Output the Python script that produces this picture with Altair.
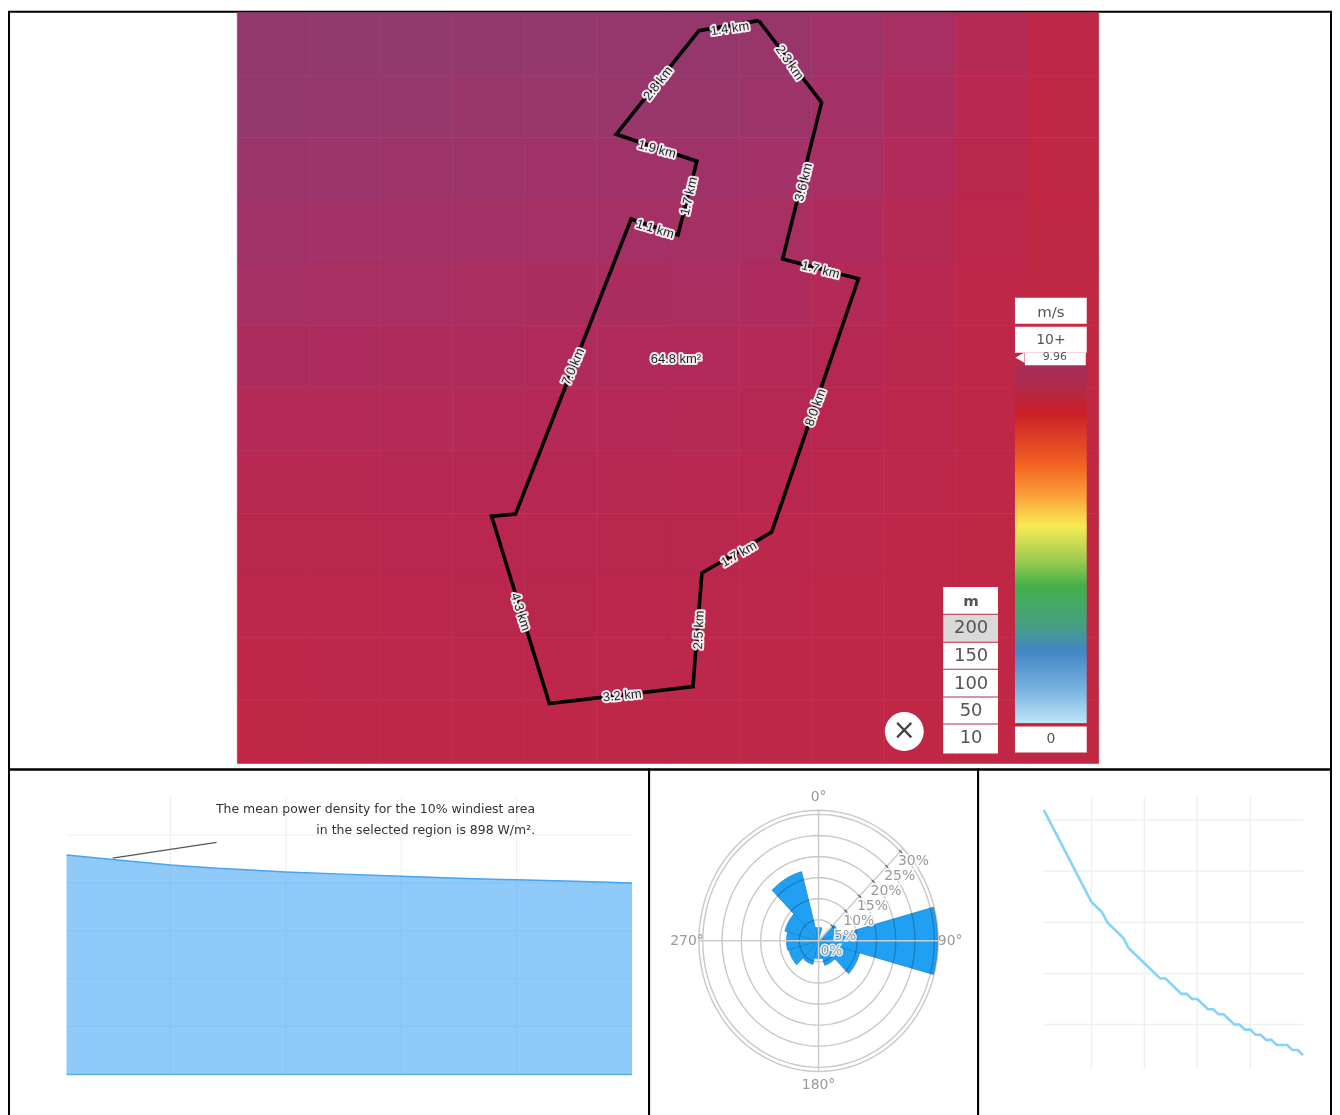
import math
import altair as alt
import pandas as pd

# ---------- map data ----------
map_cols = [237, 309, 381, 453, 525, 597, 669, 741, 813, 885, 957, 1029, 1101]
map_rows = [10, 73, 135, 198, 261, 324, 386, 449, 512, 575, 637, 700, 763]
wind_grid = [
    [9.92, 9.93, 9.93, 9.92, 9.91, 9.90, 9.90, 9.88, 9.82, 9.72, 9.60, 9.48],
    [9.91, 9.90, 9.89, 9.88, 9.87, 9.87, 9.87, 9.84, 9.78, 9.68, 9.56, 9.45],
    [9.86, 9.85, 9.84, 9.83, 9.82, 9.82, 9.82, 9.79, 9.72, 9.63, 9.53, 9.44],
    [9.80, 9.79, 9.78, 9.77, 9.76, 9.76, 9.75, 9.72, 9.67, 9.59, 9.50, 9.43],
    [9.75, 9.73, 9.72, 9.71, 9.70, 9.70, 9.69, 9.67, 9.62, 9.56, 9.48, 9.43],
    [9.68, 9.67, 9.66, 9.66, 9.65, 9.65, 9.64, 9.62, 9.58, 9.53, 9.47, 9.43],
    [9.62, 9.62, 9.62, 9.62, 9.61, 9.61, 9.60, 9.58, 9.55, 9.51, 9.46, 9.44],
    [9.57, 9.57, 9.58, 9.58, 9.58, 9.57, 9.56, 9.55, 9.52, 9.49, 9.46, 9.44],
    [9.53, 9.54, 9.55, 9.55, 9.55, 9.54, 9.53, 9.52, 9.50, 9.47, 9.45, 9.44],
    [9.50, 9.51, 9.52, 9.53, 9.53, 9.52, 9.51, 9.50, 9.48, 9.46, 9.45, 9.44],
    [9.47, 9.49, 9.50, 9.50, 9.50, 9.50, 9.49, 9.48, 9.47, 9.46, 9.45, 9.44],
    [9.45, 9.47, 9.48, 9.48, 9.48, 9.48, 9.47, 9.47, 9.46, 9.45, 9.45, 9.44],
]
boundary_x = [760, 823, 784, 860, 773, 703, 694, 550, 492, 516, 632, 679, 698, 617, 700, 760]
boundary_y = [18, 100, 257, 277, 531, 572, 686, 703, 515, 513, 217, 233, 159, 132, 28, 18]
label_text = ["1.4 km", "2.3 km", "3.6 km", "1.7 km", "8.0 km", "1.7 km", "2.5 km", "3.2 km",
              "4.3 km", "7.0 km", "1.1 km", "1.7 km", "1.9 km", "2.8 km", "64.8 km²"]
label_x = [731, 791, 805, 822, 817, 740, 700, 623, 521, 574, 656, 690, 658, 659, 677]
label_y = [26, 60, 180, 268, 406, 553, 629, 695, 611, 365, 227, 194, 147, 81, 357]
label_angle = [352, 55, 284, 14, 290, 330, 273, 354, 72, 293, 17, 283, 15, 308, 0]

box_x0 = [1017, 1017, 1027, 1017, 945, 945, 945, 945, 945, 945]
box_x1 = [1089, 1089, 1088, 1089, 1000, 1000, 1000, 1000, 1000, 1000]
box_y0 = [296, 325, 351, 726, 586, 614, 642, 669, 697, 724]
box_y1 = [322, 351, 364, 752, 613, 641, 668, 696, 723, 753]
box_fill = ["white", "white", "white", "white", "white", "#d9d9d9", "white", "white", "white", "white"]
widget_text = ["m/s", "10+", "9.96", "0", "200", "150", "100", "50", "10"]
widget_x = [1053, 1053, 1057, 1053, 973, 973, 973, 973, 973]
widget_y = [310, 338, 355, 739, 627, 655, 683, 710, 738]
widget_size = [15, 14, 11, 14, 18, 18, 18, 18, 18]

bar_stops = [(0.0, "#a52f5a"), (0.05, "#ad2b4c"), (0.136, "#cb2027"), (0.28, "#f26522"),
             (0.365, "#f9a13a"), (0.448, "#f8ea55"), (0.546, "#9acb4f"), (0.616, "#42b04a"),
             (0.72, "#47a07f"), (0.797, "#4286c4"), (0.908, "#7ab4e0"), (1.0, "#bfe6f8")]

# ---------- chart data ----------
density_pct = [2, 10, 20, 28, 40, 50, 60, 70, 80, 90, 100]
density_val = [917, 898, 875, 862, 846, 837, 828, 820, 813, 807, 800]
speed_pct = [2, 20, 24, 26, 32, 34, 40, 46, 48, 54, 56, 58, 60, 64, 66, 68, 70, 74, 76, 78, 80,
             82, 84, 86, 88, 90, 94, 96, 98, 100]
speed_val = [9.92, 9.74, 9.72, 9.70, 9.67, 9.65, 9.62, 9.59, 9.59, 9.56, 9.56, 9.55, 9.55, 9.53,
             9.53, 9.52, 9.52, 9.50, 9.50, 9.49, 9.49, 9.48, 9.48, 9.47, 9.47, 9.46, 9.46, 9.45,
             9.45, 9.44]
rose_dir = [0, 30, 60, 90, 120, 150, 180, 210, 240, 270, 300, 330]
rose_freq = [3.2, 0.5, 5.5, 30.8, 11, 6, 4.2, 5.8, 8, 8.3, 9, 17]
ring_vals = [5, 10, 15, 20, 25, 30, 31]
radial_ticks = [0, 5, 10, 15, 20, 25, 30]

FONT = "DejaVu Sans"
GREY = "#666666"

# ---------- top: map ----------
W0, H0 = 1326, 760
sx = alt.Scale(domain=[8, 1334], range=[0, W0], nice=False, zero=False)
sy = alt.Scale(domain=[9, 769], range=[0, H0], nice=False, zero=False)
X = alt.X("x:Q", scale=sx, axis=None)
Y = alt.Y("y:Q", scale=sy, axis=None)
X2 = alt.X2("x1:Q")
Y2 = alt.Y2("y1:Q")

cells = pd.DataFrame([
    {"x": map_cols[c], "x1": map_cols[c + 1], "y": map_rows[r], "y1": map_rows[r + 1], "v": wind_grid[r][c]}
    for r in range(len(wind_grid)) for c in range(len(wind_grid[0]))
])
wind_scale = alt.Scale(domain=[9.40, 9.96], range=["#c2283e", "#8e3a70"], clamp=True)
heat = alt.Chart(cells).mark_rect(strokeWidth=0.6).encode(
    x=X, x2=X2, y=Y, y2=Y2,
    color=alt.Color("v:Q", scale=wind_scale, legend=None),
    stroke=alt.Stroke("v:Q", scale=wind_scale, legend=None),
)
bdf = pd.DataFrame({"x": boundary_x, "y": boundary_y, "i": range(len(boundary_x))})
boundary = alt.Chart(bdf).mark_line(color="black", strokeWidth=3.6, strokeJoin="miter").encode(
    x=X, y=Y, order=alt.Order("i:Q"))
ldf = pd.DataFrame({"x": label_x, "y": label_y, "t": label_text, "a": label_angle})
halo = alt.Chart(ldf).mark_text(font="Liberation Sans", fontSize=13, stroke="white", strokeWidth=4,
                                strokeOpacity=0.9, fill="white", strokeJoin="round").encode(
    x=X, y=Y, text="t:N", angle=alt.Angle("a:Q", scale=None))
ltxt = alt.Chart(ldf).mark_text(font="Liberation Sans", fontSize=13, fill="#222222").encode(
    x=X, y=Y, text="t:N", angle=alt.Angle("a:Q", scale=None))

boxes = pd.DataFrame({"x": box_x0, "x1": box_x1, "y": box_y0, "y1": box_y1, "f": box_fill})
wbox = alt.Chart(boxes).mark_rect().encode(
    x=X, x2=X2, y=Y, y2=Y2, color=alt.Color("f:N", scale=None))
bar = alt.Chart(pd.DataFrame({"x": [1017], "x1": [1089], "y": [364], "y1": [723]})).mark_rect(
    color=alt.Gradient(gradient="linear", x1=0, x2=0, y1=0, y2=1,
                       stops=[alt.GradientStop(color=c, offset=o) for o, c in bar_stops])
).encode(x=X, x2=X2, y=Y, y2=Y2)
zero_line = alt.Chart(pd.DataFrame({"x": [1017], "x1": [1089], "y": [723.5]})).mark_rule(
    color="#cc2027", strokeWidth=1.5).encode(x=X, x2=X2, y=Y)
pointer = alt.Chart(pd.DataFrame({"x": [1022], "y": [356]})).mark_point(
    shape="triangle-left", filled=True, color="white", size=110, opacity=1).encode(x=X, y=Y)
wdf = pd.DataFrame({"x": widget_x, "y": widget_y, "t": widget_text, "s": widget_size})
wtxt = alt.Chart(wdf).mark_text(font=FONT, fill="#555555").encode(
    x=X, y=Y, text="t:N", size=alt.Size("s:Q", scale=None, legend=None))
m_txt = alt.Chart(pd.DataFrame({"x": [973], "y": [600], "t": ["m"]})).mark_text(
    font=FONT, fontSize=15, fontWeight="bold", fill="#555555").encode(x=X, y=Y, text="t:N")
close_dot = alt.Chart(pd.DataFrame({"x": [906], "y": [731]})).mark_point(
    shape="circle", filled=True, color="white", size=1520, opacity=1).encode(x=X, y=Y)
close_txt = alt.Chart(pd.DataFrame({"x": [906], "y": [731], "t": ["×"]})).mark_text(
    font=FONT, fontSize=28, fill="#444444").encode(x=X, y=Y, text="t:N")

top = alt.layer(heat, boundary, halo, ltxt, wbox, bar, zero_line, pointer, wtxt, m_txt, close_dot, close_txt).properties(
    width=W0, height=H0)

# ---------- bottom left: power density ----------
W1, H1 = 642, 350
ax_common = dict(labelFont=FONT, labelFontSize=11.5, labelColor=GREY, titleFont=FONT, titleFontSize=14,
                 titleColor="#555555", titleFontWeight="normal", ticks=False, grid=False,
                 labelFlush=False, labelOverlap=False, labelBound=False, domainColor="#dddddd")
s1x = alt.Scale(domain=[2, 100], range=[57.7, 625], nice=False, zero=False)
s1y = alt.Scale(domain=[0, 1158], range=[306, 28], nice=False, zero=False)
grid_x = [20, 40, 60, 80]
grid_y1 = [200, 400, 600, 800, 1000]
gx = alt.Chart(pd.DataFrame({"p": grid_x, "a": [0] * 4, "b": [1158] * 4})).mark_rule(color="#eeeeee").encode(
    x=alt.X("p:Q", scale=s1x, axis=None), y=alt.Y("a:Q", scale=s1y, axis=None), y2="b:Q")
gy = alt.Chart(pd.DataFrame({"v": grid_y1, "a": [2] * 5, "b": [100] * 5})).mark_rule(color="#eeeeee").encode(
    y=alt.Y("v:Q", scale=s1y, axis=None), x=alt.X("a:Q", scale=s1x, axis=None), x2="b:Q")
dens = pd.DataFrame({"p": density_pct, "v": density_val})
area1 = alt.Chart(dens).mark_area(color="#2196f3", opacity=0.5).encode(
    x=alt.X("p:Q", scale=s1x, title="% of windiest areas",
            axis=alt.Axis(values=[20, 40, 60, 80, 100], offset=-44, labelPadding=5, titleX=341, titleY=30,
                          titlePadding=0, domain=False, **ax_common)),
    y=alt.Y("v:Q", scale=s1y, title="Mean Power Density (W/m²)",
            axis=alt.Axis(values=[0, 200, 400, 600, 800, 1000], offset=-57.7, labelPadding=3, titleX=-38, titleY=166,
                          **ax_common)),
)
line1 = alt.Chart(dens).mark_line(color="#42a5f5", strokeWidth=1.5).encode(
    x=alt.X("p:Q", scale=s1x, axis=None), y=alt.Y("v:Q", scale=s1y, axis=None))
base1 = alt.Chart(pd.DataFrame({"a": [2], "b": [100], "v": [0]})).mark_rule(color="#5aaee8", strokeWidth=1.5).encode(
    x=alt.X("a:Q", scale=s1x, axis=None), x2="b:Q", y=alt.Y("v:Q", scale=s1y, axis=None))
note_line = alt.Chart(pd.DataFrame({"a": [10], "b": [28], "v": [904], "w": [970]})).mark_rule(
    color="#555555", strokeWidth=1.3).encode(
    x=alt.X("a:Q", scale=s1x, axis=None), x2="b:Q", y=alt.Y("v:Q", scale=s1y, axis=None), y2="w:Q")
note_lines = ["The mean power density for the 10% windiest area", "in the selected region is 898 W/m²."]
note = alt.Chart(pd.DataFrame({"p": [83.2, 83.2], "v": [1108, 1021], "t": note_lines})).mark_text(
    font=FONT, fontSize=12.5, align="right", fill="#333333").encode(
    x=alt.X("p:Q", scale=s1x, axis=None), y=alt.Y("v:Q", scale=s1y, axis=None), text="t:N")
panel1 = alt.layer(gx, gy, area1, line1, base1, note_line, note).properties(width=W1, height=H1)

# ---------- bottom middle: wind rose ----------
W2, H2 = 330, 350
s2x = alt.Scale(domain=[-31, 31], range=[50, 290], nice=False, zero=False)
s2y = alt.Scale(domain=[-31, 31], range=[303, 41], nice=False, zero=False)
PX = alt.X("x:Q", scale=s2x, axis=None)
PY = alt.Y("y:Q", scale=s2y, axis=None)


def polar(r, deg):
    t = math.radians(deg)
    return r * math.sin(t), r * math.cos(t)


wedge_rows = []
for d, f in zip(rose_dir, rose_freq):
    pts = [(0.0, 0.0)] + [polar(f, d - 15 + k) for k in range(31)] + [(0.0, 0.0)]
    for i, (x, y) in enumerate(pts):
        wedge_rows.append({"x": x, "y": y, "d": d, "i": i})
wedges = alt.Chart(pd.DataFrame(wedge_rows)).mark_line(
    fill="#20a0f2", stroke="#1a86d0", strokeWidth=0.8).encode(
    x=PX, y=PY, detail="d:N", order=alt.Order("i:Q"))
ring_rows = []
for r in ring_vals:
    for k in range(0, 361, 3):
        x, y = polar(r, k)
        ring_rows.append({"x": x, "y": y, "r": r, "i": k})
rings = alt.Chart(pd.DataFrame(ring_rows)).mark_line(color="#c8c8c8", strokeWidth=1.4, blend="multiply").encode(
    x=PX, y=PY, detail="r:N", order=alt.Order("i:Q"))
spoke_rows = []
for d in [0, 90, 180, 270, 45]:
    for i, r in enumerate([0, 31]):
        x, y = polar(r, d)
        spoke_rows.append({"x": x, "y": y, "d": d, "i": i})
spokes = alt.Chart(pd.DataFrame(spoke_rows)).mark_line(color="#cccccc", strokeWidth=1.5).encode(
    x=PX, y=PY, detail="d:N", order=alt.Order("i:Q"))
tick_df = pd.DataFrame([dict(zip("xy", polar(r, 45))) for r in radial_ticks[1:]])
ticks2 = alt.Chart(tick_df).mark_point(shape="stroke", angle=45, color="#222222", size=14, strokeWidth=1.1).encode(x=PX, y=PY)
rt_df = pd.DataFrame([{**dict(zip("xy", polar(r, 45))), "t": f"{r}%"} for r in radial_ticks])
rt_halo = alt.Chart(rt_df).mark_text(font=FONT, fontSize=14, dx=13, dy=10, fill="white", stroke="white",
                                     strokeWidth=3, strokeOpacity=0.85).encode(x=PX, y=PY, text="t:N")
rt_txt = alt.Chart(rt_df).mark_text(font=FONT, fontSize=14, dx=13, dy=10, fill="#999999").encode(
    x=PX, y=PY, text="t:N")
ang_df = pd.DataFrame([{**dict(zip("xy", polar(34.1, d))), "t": f"{d}°"} for d in [0, 90, 180, 270]])
ang_txt = alt.Chart(ang_df).mark_text(font=FONT, fontSize=14, fill="#999999").encode(x=PX, y=PY, text="t:N")
panel2 = alt.layer(wedges, rings, spokes, ticks2, rt_halo, rt_txt, ang_txt).properties(width=W2, height=H2)

# ---------- bottom right: wind speed ----------
W3, H3 = 354, 350
s3x = alt.Scale(domain=[2, 100], range=[66, 326], nice=False, zero=False)
s3y = alt.Scale(domain=[9.412, 9.945], range=[301, 28], nice=False, zero=False)
gx3 = alt.Chart(pd.DataFrame({"p": grid_x, "a": [9.412] * 4, "b": [9.945] * 4})).mark_rule(color="#f0f0f0", strokeWidth=1.5).encode(
    x=alt.X("p:Q", scale=s3x, axis=None), y=alt.Y("a:Q", scale=s3y, axis=None), y2="b:Q")
gy3 = alt.Chart(pd.DataFrame({"v": [9.5, 9.6, 9.7, 9.8, 9.9], "a": [2] * 5, "b": [100] * 5})).mark_rule(color="#f0f0f0", strokeWidth=1.5).encode(
    y=alt.Y("v:Q", scale=s3y, axis=None), x=alt.X("a:Q", scale=s3x, axis=None), x2="b:Q")
line3 = alt.Chart(pd.DataFrame({"p": speed_pct, "v": speed_val})).mark_line(color="#85d2fa", strokeWidth=2.6).encode(
    x=alt.X("p:Q", scale=s3x, title="% of windiest areas",
            axis=alt.Axis(values=[20, 40, 60, 80, 100], offset=-49, labelPadding=5, titleX=196, titleY=30,
                          **ax_common)),
    y=alt.Y("v:Q", scale=s3y, title="Mean Wind Speed (m/s)",
            axis=alt.Axis(values=[9.5, 9.6, 9.7, 9.8, 9.9], format=".1f", offset=-66, labelPadding=5,
                          titleX=-40, titleY=180, **ax_common)),
)
panel3 = alt.layer(gx3, gy3, line3).properties(width=W3, height=H3)

bottom = alt.hconcat(panel1, panel2, panel3, spacing=0, bounds="flush")
chart = alt.vconcat(top, bottom, spacing=0, bounds="flush").properties(
    padding={"left": 0, "top": 1, "right": 0, "bottom": 0}, background="white"
).configure_view(stroke="black", strokeWidth=2)

chart.save("out.html", embed_options={"renderer": "svg", "actions": False})
